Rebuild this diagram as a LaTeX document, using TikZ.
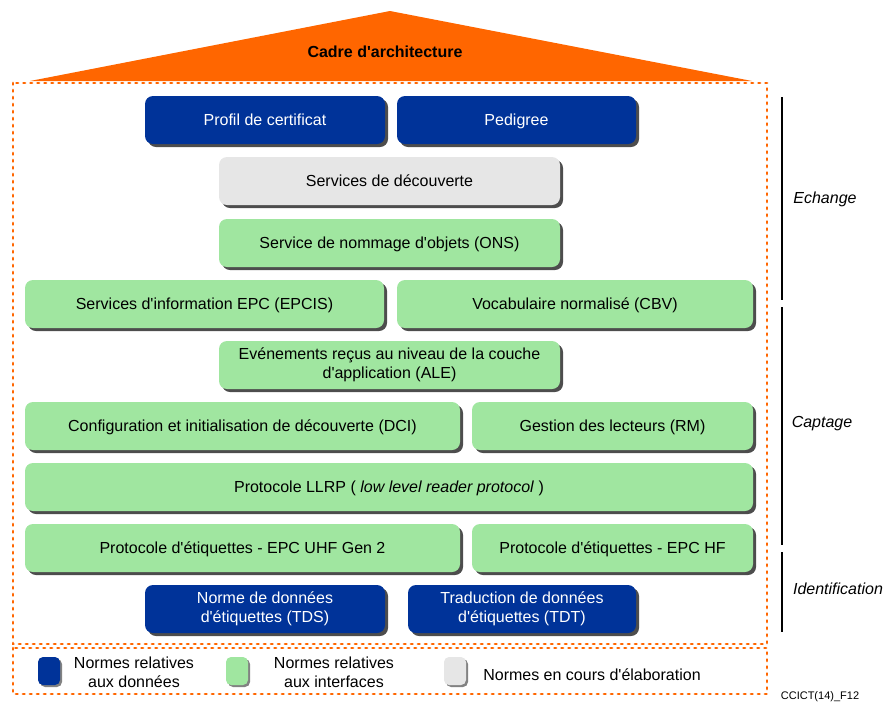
\documentclass[tikz,border=0pt]{standalone}
\usepackage{fontspec}
\setmainfont{Liberation Sans}[Ligatures=TeXOff]
\usetikzlibrary{shadows}
\definecolor{epcblue}{RGB}{0,51,153}
\definecolor{epcgreen}{RGB}{160,230,160}
\definecolor{epcgray}{RGB}{230,230,230}
\definecolor{epcorange}{RGB}{255,102,0}
\definecolor{shadowgray}{RGB}{77,77,77}
\newcommand{\boxstrut}{\vrule height 15.5pt depth 4pt width 0pt}
\begin{document}
\begin{tikzpicture}[x=1pt,y=-1pt,
  every node/.style={font=\fontsize{16}{19}\selectfont, inner sep=0pt, align=center},
  basebox/.style={rounded corners=8pt, minimum height=48pt,
    execute at begin node=\boxstrut, execute at end node=\boxstrut,
    drop shadow={shadow xshift=3pt, shadow yshift=-3pt, fill=shadowgray, opacity=1}},
  bluebox/.style={basebox, fill=epcblue, text=white},
  greenbox/.style={basebox, fill=epcgreen, text=black},
  graybox/.style={basebox, fill=epcgray, text=black},
  swatch/.style={rounded corners=5pt, minimum width=22pt, minimum height=28pt,
    drop shadow={shadow xshift=2pt, shadow yshift=-2pt, fill=shadowgray!70, opacity=1}},
  frame/.style={draw=epcorange, line width=2.8pt, line cap=round, dash pattern=on 1.5pt off 5.5pt},
  bar/.style={draw=black, line width=2pt},
  sidelabel/.style={font=\fontsize{16}{19}\selectfont\itshape}
]
\useasboundingbox (0,0) rectangle (885,702);
% roof
\fill[epcorange] (30,81) -- (390,11) -- (752,81) -- cycle;
\node[font=\fontsize{16}{19}\selectfont\bfseries] (title) at (385,52) {Cadre d'architecture};
% frames
\draw[frame] (13,83) rectangle (767,644);
\draw[frame] (13,648) rectangle (767,694);
% boxes
\node[bluebox, minimum width=240pt] (cert) at (265,120) {Profil de certificat};
\node[bluebox, minimum width=239pt] (ped) at (516.5,120) {Pedigree};
\node[graybox, minimum width=341pt] (disc) at (389.5,181) {Services de découverte};
\node[greenbox, minimum width=341pt] (ons) at (389.5,243) {Service de nommage d'objets (ONS)};
\node[greenbox, minimum width=359pt] (epcis) at (204.5,304) {Services d'information EPC (EPCIS)};
\node[greenbox, minimum width=356pt] (cbv) at (575,304) {Vocabulaire normalisé (CBV)};
\node[greenbox, minimum width=341pt] (ale) at (389.5,365) {Evénements reçus au niveau de la couche\\d'application (ALE)};
\node[greenbox, minimum width=435pt] (dci) at (242.5,426) {Configuration et initialisation de découverte (DCI)};
\node[greenbox, minimum width=281pt] (rm) at (612.5,426) {Gestion des lecteurs (RM)};
\node[greenbox, minimum width=728pt] (llrp) at (389,487) {Protocole LLRP ( \textit{low level reader protocol} )};
\node[greenbox, minimum width=435pt] (uhf) at (242.5,548) {Protocole d'étiquettes - EPC UHF Gen 2};
\node[greenbox, minimum width=281pt] (hf) at (612.5,548) {Protocole d'étiquettes - EPC HF};
\node[bluebox, minimum width=240pt] (tds) at (265,609) {Norme de données\\d'étiquettes (TDS)};
\node[bluebox, minimum width=228pt] (tdt) at (522,609) {Traduction de données\\d'étiquettes (TDT)};
% side bars
\coordinate (e1) at (782,97); \coordinate (e2) at (782,300);
\coordinate (c1) at (782,307); \coordinate (c2) at (782,545);
\coordinate (i1) at (782,552); \coordinate (i2) at (782,632);
\draw[bar] (e1) -- (e2);
\draw[bar] (c1) -- (c2);
\draw[bar] (i1) -- (i2);
\node[sidelabel] (lech) at (825,199) {Echange};
\node[sidelabel] (lcap) at (822,424) {Captage};
\node[sidelabel] (lid) at (838,589) {Identification};
% legend
\node[swatch, fill=epcblue] (sw1) at (49,671) {};
\node (t1) at (134,672) {Normes relatives\\aux données};
\node[swatch, fill=epcgreen] (sw2) at (237,671) {};
\node (t2) at (334,672) {Normes relatives\\aux interfaces};
\node[swatch, fill=epcgray] (sw3) at (455,671) {};
\node (t3) at (592,675) {Normes en cours d'élaboration};
\node[font=\fontsize{11}{12}\selectfont] (ref) at (820,697) {CCICT(14)\_F12};
\end{tikzpicture}
\end{document}
